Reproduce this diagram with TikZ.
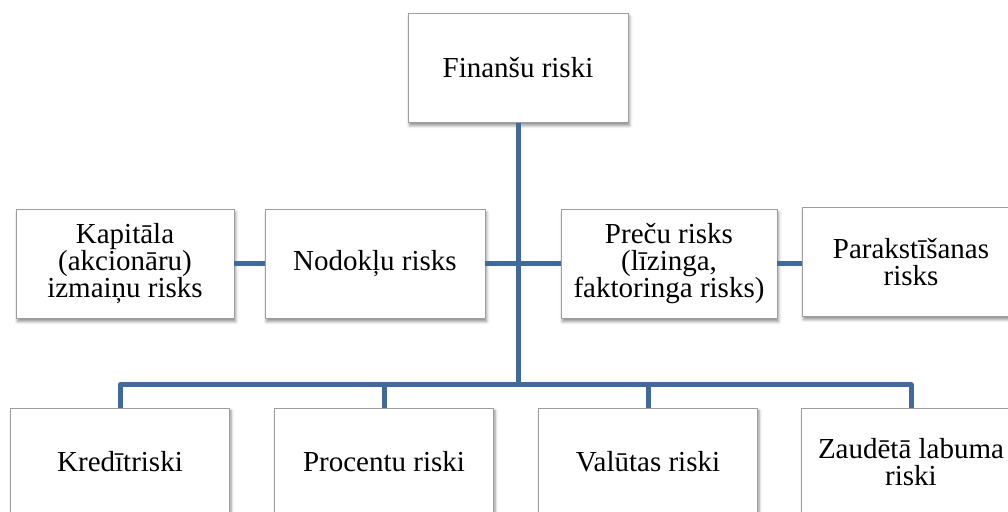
\documentclass[tikz,border=0pt]{standalone}
\usepackage{fontspec}
\setmainfont{Liberation Serif}
\newfontfamily\boxfont{Liberation Serif}
\usetikzlibrary{shadows.blur}
\definecolor{linkblue}{HTML}{41699B}
\definecolor{boxedge}{HTML}{9E9E9E}

\begin{document}
\begin{tikzpicture}[x=1pt, y=1pt,
    riskbox/.style={rectangle, draw=boxedge, line width=0.8pt, fill=white,
      minimum width=219pt, minimum height=108pt, inner sep=2pt, align=center,
      font=\boxfont\fontsize{29}{27}\selectfont,
      blur shadow={shadow xshift=1.5pt, shadow yshift=-3pt,
      shadow blur radius=3pt, shadow opacity=45}},
    link/.style={draw=linkblue, line width=5pt, line join=round},
  ]
  \useasboundingbox (0,0) rectangle (1008,511);
  \clip (0,0) rectangle (1008,511);

  % Top
  \node[riskbox, minimum width=220pt, minimum height=109pt] (fin) at (518,443) {Finanšu riski};

  % Middle row
  \node[riskbox, minimum width=218pt, minimum height=109pt] (kap) at (125,247)
  {Kapitāla\\(akcionāru)\\izmaiņu risks};
  \node[riskbox, minimum width=220pt, minimum height=109pt] (nod) at (375,247)
  {Nodokļu risks};
  \node[riskbox, minimum width=216pt, minimum height=109pt] (prec) at (669,247)
  {Preču risks\\(līzinga,\\faktoringa risks)};
  \node[riskbox, minimum width=218pt, minimum height=109pt] (par) at (911,249)
  {Parakstīšanas\\risks};

  % Bottom row
  \node[riskbox] (kre) at (120,49) {Kredītriski};
  \node[riskbox] (pro) at (384,49) {Procentu riski};
  \node[riskbox] (val) at (648,49) {Valūtas riski};
  \node[riskbox] (zau) at (911,49) {Zaudētā labuma\\riski};

  \coordinate (hub) at (518,126);

  \draw[link] (fin.south) -- (hub);
  \foreach \b in {kre,pro,val,zau}
    \draw[link] (hub) -| (\b.north);

  \draw[link] (kap.east) -- (nod.west);
  \draw[link] (nod.east) -- (prec.west);
  \draw[link] (prec.east) -- (par.west |- prec.east);
\end{tikzpicture}
\end{document}
